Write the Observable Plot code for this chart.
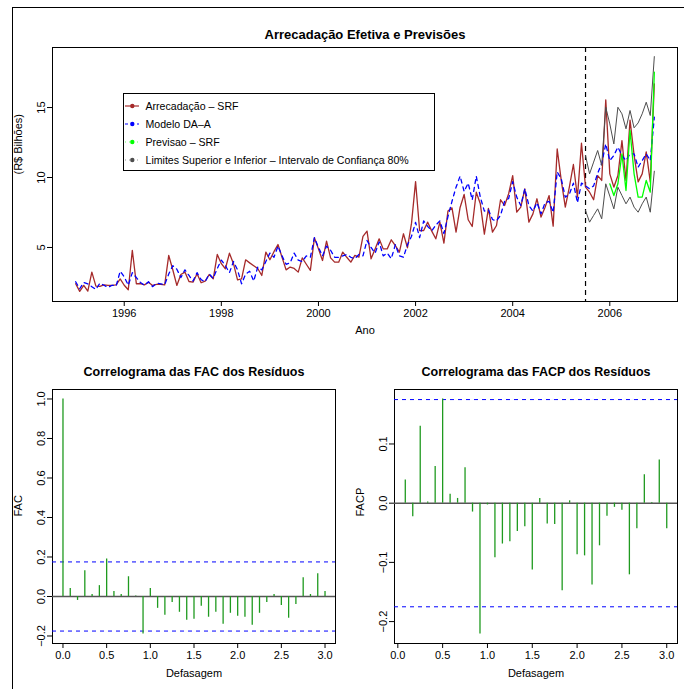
<!DOCTYPE html>
<html><head><meta charset="utf-8">
<script src="https://cdn.jsdelivr.net/npm/d3@7"></script>
<script src="https://cdn.jsdelivr.net/npm/@observablehq/plot@0.6"></script>
<style>
body{margin:0;background:#fff;font-family:"Liberation Sans",Arial,Helvetica,sans-serif;}
#wrap{position:relative;width:684px;height:689px;overflow:hidden;background:#fff;}
#legend{position:absolute;left:123px;top:93px;width:310px;height:76px;border:1px solid #000;background:#fff;font-size:10.6px;}
#legend .row{position:absolute;height:16px;display:flex;align-items:center;white-space:nowrap;}
</style></head><body><div id="wrap"></div>
<script>
// ---------- data ----------
const startYear = 1995;
const arrecadacao = [
  2.41, 1.86, 2.29, 1.88, 3.24, 2.24, 2.22, 2.33, 2.29, 2.29, 2.33, 2.75,
  2.30, 1.98, 4.79, 2.41, 2.41, 2.33, 2.52, 2.29, 2.36, 2.36, 2.33, 4.43,
  3.41, 2.29, 3.07, 3.24, 2.57, 2.52, 3.12, 2.48, 2.60, 3.07, 2.76, 4.50,
  3.84, 3.48, 4.59, 3.84, 2.69, 2.76, 4.12, 3.90, 3.70, 3.50, 3.00, 4.67,
  4.12, 4.70, 5.21, 4.30, 3.40, 3.60, 3.50, 3.24, 4.26, 3.80, 3.36, 5.69,
  4.90, 4.07, 5.45, 4.26, 3.95, 3.95, 4.67, 4.30, 3.95, 4.43, 4.31, 5.79,
  6.17, 4.19, 4.90, 5.62, 4.90, 4.90, 5.55, 5.14, 4.67, 5.98, 4.98, 6.74,
  9.71, 6.21, 6.21, 6.81, 6.17, 5.62, 6.81, 5.31, 7.60, 7.83, 6.10, 7.86,
  8.79, 6.98, 6.50, 8.95, 8.12, 5.95, 7.80, 6.10, 6.57, 8.41, 8.00, 8.84,
  10.14, 7.52, 7.88, 9.19, 6.81, 7.40, 8.48, 7.17, 7.88, 8.71, 6.52, 12.04,
  9.79, 7.88, 9.31, 10.93, 8.60, 12.45, 9.31, 8.95, 8.41, 10.14, 9.79, 15.55,
  10.26, 9.31, 10.14, 12.64, 9.79, 14.10, 11.60, 9.69, 10.26, 11.83, 9.69, 16.69
];
const modeloDAA = [
  2.55, 2.05, 2.50, 2.40, 2.20, 2.00, 2.45, 2.30, 2.15, 2.30, 2.25, 3.30,
  2.90, 2.30, 3.20, 2.85, 2.50, 2.30, 2.55, 2.20, 2.45, 2.40, 2.35, 3.10,
  3.70, 3.45, 2.85, 3.40, 3.00, 2.60, 3.20, 2.70, 2.55, 3.10, 2.80, 3.50,
  4.10, 3.70, 3.20, 4.00, 3.40, 2.40, 3.10, 3.30, 2.60, 3.60, 3.40, 4.00,
  4.60, 4.30, 5.10, 4.40, 3.80, 3.90, 4.60, 4.10, 4.00, 4.40, 4.30, 5.70,
  5.00, 4.40, 5.10, 4.80, 4.30, 4.30, 4.40, 4.50, 4.30, 4.20, 4.50, 4.40,
  5.50, 5.00, 4.60, 5.40, 4.40, 4.60, 4.20, 5.20, 4.40, 4.30, 5.20, 5.80,
  6.80, 5.70, 6.90, 6.50, 6.20, 6.60, 6.90, 6.00, 7.20, 8.30, 9.30, 10.10,
  9.00, 9.60, 8.40, 10.10, 8.60, 7.60, 7.70, 7.00, 6.90, 7.30, 8.30, 8.50,
  9.70, 8.60, 8.00, 9.20, 8.00, 7.60, 8.20, 7.40, 8.20, 8.30, 7.50, 10.40,
  9.90, 8.60, 8.80, 9.60, 8.20, 9.60, 9.40, 9.20, 9.40, 10.30, 11.00, 12.40,
  11.21, 11.57, 12.17, 11.57, 11.21, 11.69, 11.69, 10.74, 11.21, 11.69, 11.21, 14.31
];
const previsaoStart = 2006;
const previsaoSRF = [9.55, 8.71, 9.55, 11.69, 9.07, 13.36, 10.26, 8.60, 8.60, 9.79, 8.95, 17.52];
const limitesStart = 2005.5;
const limiteSuperior = [11.57, 10.26, 11.10, 11.93, 10.86, 15.02, 13.83, 12.40, 15.02, 14.55, 13.48, 14.79, 13.55, 13.90, 14.55, 15.38, 14.43, 18.64];
const limiteInferior = [7.64, 6.81, 7.29, 7.76, 7.05, 9.55, 8.67, 7.76, 9.31, 8.71, 8.12, 8.60, 7.88, 7.52, 8.12, 8.60, 7.52, 10.45];
const yearTicks = [1996, 1998, 2000, 2002, 2004, 2006];
const valueTicks = [5, 10, 15];

const facValues = [1.0, 0.04, -0.02, 0.13, 0.01, 0.055, 0.19, 0.025, 0.01, 0.10, 0.002, -0.19,
  0.04, -0.06, -0.095, -0.03, -0.08, -0.12, -0.115, -0.05, -0.105, -0.08, -0.14, -0.085,
  -0.10, -0.105, -0.145, -0.085, -0.03, 0.01, -0.045, -0.11, -0.04, 0.095, 0.01, 0.115, 0.025];
const facpValues = [0.039, -0.023, 0.13, 0.002, 0.062, 0.176, 0.015, 0.008, 0.06, -0.015, -0.221, -0.003,
  -0.092, -0.069, -0.065, -0.048, -0.04, -0.113, 0.008, -0.035, -0.036, -0.148, 0.004, -0.087,
  -0.089, -0.138, -0.072, -0.022, -0.007, -0.012, -0.121, -0.043, 0.048, 0.001, 0.073, -0.043];
const limiteConfianca = 0.175;
const lagTicks = [0, 0.5, 1, 1.5, 2, 2.5, 3];
const facTicks = [-0.2, 0, 0.2, 0.4, 0.6, 0.8, 1.0];
const facpTicks = [-0.2, -0.1, 0, 0.1];

// ---------- helpers ----------
const FONT = '"Liberation Sans", Arial, Helvetica, sans-serif';
const monthly = (start, arr) => arr.map((v, i) => ({t: start + i / 12, v}));
const wrap = document.getElementById("wrap");
function place(el, left, top) {
  el.style.position = "absolute"; el.style.left = left + "px"; el.style.top = top + "px";
  wrap.appendChild(el);
}
const baseStyle = {fontFamily: FONT, fontSize: "11px", color: "#000", background: "transparent", overflow: "visible"};

// ---------- top chart ----------
const topPlot = Plot.plot({
  width: 684, height: 345,
  marginLeft: 52, marginRight: 7, marginTop: 47, marginBottom: 44,
  style: baseStyle,
  x: {domain: [1994.523, 2007.394]},
  y: {domain: [1.14, 19.29]},
  marks: [
    Plot.frame({stroke: "#000", strokeWidth: 1}),
    Plot.axisX({ticks: yearTicks, tickSize: 5, tickPadding: 3, tickFormat: d => String(d), label: null, fontSize: 11}),
    Plot.axisY({ticks: valueTicks, tickSize: 5, tickPadding: 3, tickRotate: -90, tickFormat: d => String(d), label: null, fontSize: 11}),
    Plot.ruleX([limitesStart], {stroke: "#000", strokeWidth: 1.2, strokeDasharray: "5,4"}),
    Plot.line(monthly(startYear, arrecadacao), {x: "t", y: "v", stroke: "#a52a2a", strokeWidth: 1.3}),
    Plot.line(monthly(startYear, modeloDAA), {x: "t", y: "v", stroke: "#0000ff", strokeWidth: 1.3, strokeDasharray: "4,4"}),
    Plot.line(monthly(limitesStart, limiteSuperior), {x: "t", y: "v", stroke: "#4d4d4d", strokeWidth: 1}),
    Plot.line(monthly(limitesStart, limiteInferior), {x: "t", y: "v", stroke: "#4d4d4d", strokeWidth: 1}),
    Plot.line(monthly(previsaoStart, previsaoSRF), {x: "t", y: "v", stroke: "#00ff00", strokeWidth: 1.3}),
    Plot.text(["Arrecadação Efetiva e Previsões"], {text: d => d, frameAnchor: "top", dy: -18, fontWeight: "bold", fontSize: 13}),
    Plot.text(["Ano"], {text: d => d, frameAnchor: "bottom", dy: 32, fontSize: 11}),
    Plot.text(["(R$ Bilhões)"], {text: d => d, frameAnchor: "left", dx: -34, rotate: -90, fontSize: 11})
  ]
});
place(topPlot, 0, 0);

// legend
const legendItems = [
  {label: "Arrecadação – SRF", color: "#a52a2a", dash: null, lineOpacity: 1},
  {label: "Modelo DA–A", color: "#0000ff", dash: "3,3", lineOpacity: 1},
  {label: "Previsao – SRF", color: "#00ff00", dash: "1,3", lineOpacity: 0.6},
  {label: "Limites Superior e Inferior – Intervalo de Confiança 80%", color: "#4d4d4d", dash: "1,3", lineOpacity: 0.6}
];
const legend = document.createElement("div");
legend.id = "legend";
legendItems.forEach((it, k) => {
  const row = document.createElement("div");
  row.className = "row";
  row.style.top = (4.3 + k * 17.8) + "px";
  row.style.left = "1px";
  row.innerHTML = `<svg width="15" height="16"><line x1="0" x2="14" y1="8" y2="8" stroke="${it.color}" stroke-width="1.2" stroke-opacity="${it.lineOpacity}" ${it.dash ? `stroke-dasharray="${it.dash}"` : ""}/><circle cx="7.3" cy="8" r="2.2" fill="${it.color}"/></svg><span style="margin-left:5.5px">${it.label}</span>`;
  legend.appendChild(row);
});
wrap.appendChild(legend);

// ---------- correlograms ----------
function correlograma({values, firstLag, yDomain, yTicks, xDomain, title, ylabel}) {
  const data = values.map((v, k) => ({lag: (k + firstLag) / 12, v}));
  return Plot.plot({
    width: 342, height: 344,
    marginLeft: 52, marginRight: 7, marginTop: 44, marginBottom: 46,
    style: baseStyle,
    x: {domain: xDomain},
    y: {domain: yDomain},
    marks: [
      Plot.frame({stroke: "#000", strokeWidth: 1}),
      Plot.axisX({ticks: lagTicks, tickSize: 5, tickPadding: 3, tickFormat: d3.format(".1f"), label: null, fontSize: 11}),
      Plot.axisY({ticks: yTicks, tickSize: 5, tickPadding: 3, tickRotate: -90, tickFormat: d3.format(".1f"), label: null, fontSize: 11}),
      Plot.ruleY([0], {stroke: "#555", strokeWidth: 1.6}),
      Plot.ruleY([limiteConfianca, -limiteConfianca], {stroke: "#0000ff", strokeWidth: 1, strokeDasharray: "4,4"}),
      Plot.ruleX(data, {x: "lag", y1: 0, y2: "v", stroke: "#1f9a1f", strokeWidth: 1.3}),
      Plot.text([title], {text: d => d, frameAnchor: "top", dy: -22, fontWeight: "bold", fontSize: 12.5}),
      Plot.text(["Defasagem"], {text: d => d, frameAnchor: "bottom", dy: 33, fontSize: 11}),
      Plot.text([ylabel], {text: d => d, frameAnchor: "left", dx: -34, rotate: -90, fontSize: 11})
    ]
  });
}
place(correlograma({values: facValues, firstLag: 0, yDomain: [-0.238, 1.048], yTicks: facTicks,
  xDomain: [-0.12, 3.12], title: "Correlograma das FAC dos Resíduos", ylabel: "FAC"}), 0, 345);
place(correlograma({values: facpValues, firstLag: 1, yDomain: [-0.237, 0.192], yTicks: facpTicks,
  xDomain: [-0.037, 3.12], title: "Correlograma das FACP dos Resíduos", ylabel: "FACP"}), 342, 345);

// outer frame (left and top edges)
const frame = document.createElement("div");
frame.style.cssText = "position:absolute;left:12px;top:7px;width:700px;height:700px;border-left:1px solid #000;border-top:1px solid #000;pointer-events:none;";
wrap.appendChild(frame);
</script>
</body></html>
